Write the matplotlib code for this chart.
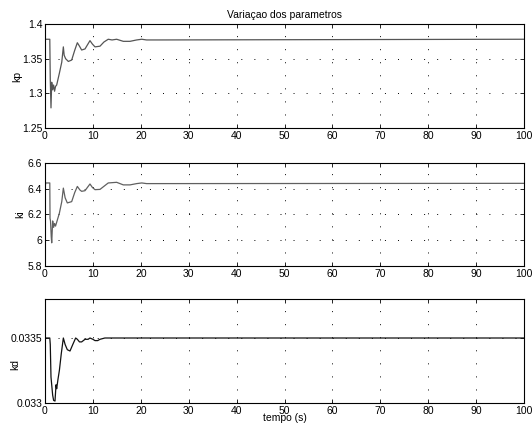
import numpy as np
import matplotlib
matplotlib.use('Agg')
import matplotlib.pyplot as plt

plt.rcParams['font.family'] = ['Liberation Sans', 'DejaVu Sans']
plt.rcParams['font.size'] = 7.5
plt.rcParams['lines.scale_dashes'] = False

# parameter histories (time in s)
t_kp = [0, 1.0, 1.1, 1.25, 1.4, 1.6, 1.8, 2.0, 2.2, 2.44, 3.0, 3.5, 3.83, 4.0, 4.3,
        4.87, 5.57, 6.2, 6.75, 7.2, 7.65, 8.35, 9.39, 9.9, 10.44, 11.48, 12.3, 13.2,
        14.0, 14.96, 16.35, 17.75, 19.14, 20.2, 21.2, 24, 100]
kp = [1.378, 1.378, 1.32, 1.279, 1.316, 1.305, 1.312, 1.303, 1.31, 1.312, 1.329,
      1.345, 1.367, 1.355, 1.35, 1.346, 1.348, 1.362, 1.373, 1.368, 1.3625, 1.364,
      1.376, 1.371, 1.367, 1.368, 1.374, 1.378, 1.377, 1.378, 1.375, 1.375, 1.377,
      1.378, 1.377, 1.377, 1.378]

t_ki = [0, 0.15, 1.0, 1.05, 1.15, 1.3, 1.4, 1.6, 1.8, 2.0, 2.2, 2.44, 3.0, 3.5, 3.83,
        4.2, 4.66, 5.57, 6.2, 6.75, 7.3, 7.65, 8.35, 9.39, 9.9, 10.44, 11.48, 13.2,
        14.96, 16.35, 17.75, 19.14, 20.2, 21.2, 24, 100]
ki = [6.41, 6.445, 6.445, 6.17, 6.15, 6.03, 5.98, 6.15, 6.10, 6.13, 6.11, 6.14, 6.21,
      6.30, 6.405, 6.33, 6.29, 6.30, 6.37, 6.418, 6.39, 6.38, 6.385, 6.437, 6.41,
      6.393, 6.395, 6.445, 6.45, 6.43, 6.43, 6.44, 6.445, 6.44, 6.44, 6.442]

t_kd = [0, 1.0, 1.1, 1.25, 1.6, 1.8, 2.09, 2.3, 2.44, 2.7, 3.0, 3.4, 3.83, 4.2, 4.66,
        5.22, 5.8, 6.4, 6.75, 7.2, 7.65, 8.35, 9.0, 9.39, 10.0, 10.44, 11.0, 11.48,
        12.5, 100]
kd = [0.0335, 0.0335, 0.03345, 0.0332, 0.03306, 0.03302, 0.033015, 0.03314, 0.03311,
      0.03318, 0.03325, 0.03338, 0.03350, 0.03345, 0.03341, 0.03340, 0.03345,
      0.03350, 0.03349, 0.03347, 0.03347, 0.03349, 0.03349, 0.03350, 0.03349,
      0.03348, 0.03348, 0.03349, 0.03350, 0.03350]

xticks = list(range(0, 101, 10))
kp_ticks = [1.25, 1.3, 1.35, 1.4]
kp_labels = ['1.25', '1.3', '1.35', '1.4']
ki_ticks = [5.8, 6.0, 6.2, 6.4, 6.6]
ki_labels = ['5.8', '6', '6.2', '6.4', '6.6']
kd_ticks = [0.033, 0.0335]
kd_labels = ['0.033', '0.0335']

fig = plt.figure(figsize=(5.32, 4.29), dpi=100)
left, width = 45 / 532, 479 / 532
ax1 = fig.add_axes([left, 1 - 128 / 429, width, 104 / 429])
ax2 = fig.add_axes([left, 1 - 266 / 429, width, 103 / 429])
ax3 = fig.add_axes([left, 1 - 403 / 429, width, 104 / 429])

# axes, t, y, colour, ylim, ticks, labels, name, ylabel position
panels = [
    (ax1, t_kp, kp, '#555555', (1.25, 1.4), kp_ticks, kp_labels, 'kp', (-0.048, 0.5)),
    (ax2, t_ki, ki, '#606060', (5.8, 6.6), ki_ticks, ki_labels, 'ki', (-0.042, 0.5)),
    (ax3, t_kd, kd, '#111111', (0.033, 0.0338), kd_ticks, kd_labels, 'kd', (-0.052, 0.37)),
]

for ax, t, y, c, lim, yt, yl, name, lpos in panels:
    ax.plot(t, y, color=c, lw=0.9)
    ax.set_xlim(0, 100)
    ax.set_ylim(*lim)
    ax.set_xticks(xticks)
    ax.set_yticks(yt)
    ax.set_yticklabels(yl)
    ax.grid(True, color='black', lw=0.7, linestyle=(0, (0.7, 8.7)))
    ax.tick_params(direction='in', length=3, width=0.6, top=True, right=True,
                   pad=2, labelsize=7.5, colors='black')
    for s in ax.spines.values():
        s.set_linewidth(0.8)
    ax.set_ylabel(name)
    ax.yaxis.set_label_coords(*lpos)

ax1.set_title('Variaçao dos parametros', fontsize=7.5, pad=4)
ax3.set_xlabel('tempo (s)')
ax3.xaxis.set_label_coords(0.5, -0.095)

fig.savefig('out.png', dpi=100)
